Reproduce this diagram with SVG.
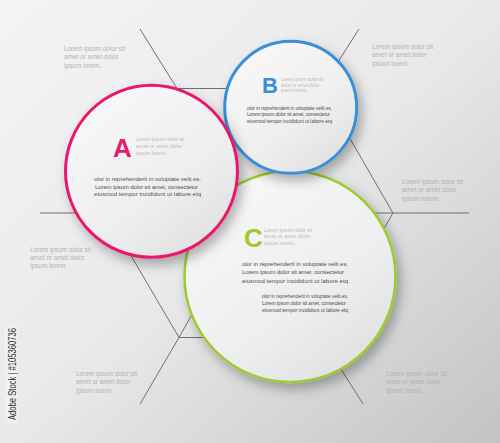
<svg xmlns="http://www.w3.org/2000/svg" width="500" height="443" viewBox="0 0 500 443">
<defs>
<linearGradient id="bg" x1="0" y1="0" x2="1" y2="1">
<stop offset="0" stop-color="#f4f4f4"/>
<stop offset="0.5" stop-color="#e9e9ea"/>
<stop offset="1" stop-color="#c2c3c5"/>
</linearGradient>
<linearGradient id="disc" x1="0.2" y1="0.1" x2="0.85" y2="0.95">
<stop offset="0" stop-color="#f7f7f7"/>
<stop offset="0.6" stop-color="#eeeeee"/>
<stop offset="1" stop-color="#e0e0e1"/>
</linearGradient>
<filter id="sh" x="-30%" y="-30%" width="160%" height="160%">
<feDropShadow dx="4" dy="6" stdDeviation="6" flood-color="#000" flood-opacity="0.3"/>
</filter>
<style>
.ln{stroke:#707070;stroke-width:1;fill:none}
.out{font-family:"Liberation Sans",Arial,sans-serif;font-size:6.5px;fill:#b3b3b3}
.sm{font-family:"Liberation Sans",Arial,sans-serif;fill:#bdbdbd}
.body{font-family:"Liberation Sans",Arial,sans-serif;fill:#4f4f4f}
.let{font-family:"Liberation Sans",Arial,sans-serif;font-weight:bold}
.disc{fill:url(#disc);filter:url(#sh)}
</style>
</defs>
<rect width="500" height="443" fill="url(#bg)"/>
<g id="connectors">
<path class="ln" d="M177,88.5 L321,88.5 L393,213 L321,337.5 L179,337.5 L106,213 Z"/>
<path class="ln" d="M249,213 L393,213 M249,213 L179,337.5 M249,213 L177,88.5"/>
<path class="ln" d="M177,88.5 L140,29 M321,88.5 L359,29 M393,213 L469,213 M321,337.5 L363,404 M179,337.5 L140,404 M106,213 L40,213"/>
</g>
<g id="labels">
<text class="out" x="64" y="50.5"><tspan textLength="61">Lorem ipsum dolor sit</tspan><tspan x="64" dy="8.5">amet or amet dolor</tspan><tspan x="64" dy="8.5">ipsum lorem.</tspan></text>
<text class="out" x="372" y="49"><tspan textLength="61">Lorem ipsum dolor sit</tspan><tspan x="372" dy="8.3">amet or amet dolor</tspan><tspan x="372" dy="8.3">ipsum lorem.</tspan></text>
<text class="out" x="402" y="184"><tspan textLength="61">Lorem ipsum dolor sit</tspan><tspan x="402" dy="8.3">amet or amet dolor</tspan><tspan x="402" dy="8.3">ipsum lorem.</tspan></text>
<text class="out" x="30" y="251.5"><tspan textLength="61">Lorem ipsum dolor sit</tspan><tspan x="30" dy="8.3">amet or amet dolor</tspan><tspan x="30" dy="8.3">ipsum lorem.</tspan></text>
<text class="out" x="76" y="376"><tspan textLength="61">Lorem ipsum dolor sit</tspan><tspan x="76" dy="8.4">amet or amet dolor</tspan><tspan x="76" dy="8.4">ipsum lorem.</tspan></text>
<text class="out" x="386" y="376" fill="#a9a9a9"><tspan textLength="61">Lorem ipsum dolor sit</tspan><tspan x="386" dy="8.4">amet or amet dolor</tspan><tspan x="386" dy="8.4">ipsum lorem.</tspan></text>
</g>
<g id="nodeC">
<circle class="disc" cx="290" cy="276.5" r="105.5" stroke="#9dcb2d" stroke-width="2.5"/>
<text class="let" x="244" y="247" font-size="26" fill="#9dcb2d">C</text>
<text class="sm" x="264" y="231.5" font-size="5.5"><tspan textLength="48">Lorem ipsum dolor sit</tspan><tspan x="264" dy="6.7">amet or amet dolor</tspan><tspan x="264" dy="6.7">ipsum lorem.</tspan></text>
<text class="body" x="242" y="266" font-size="6"><tspan textLength="106">olor in reprehenderit in voluptate velit es,</tspan><tspan x="242" dy="8.3" textLength="102">Lorem ipsum dolor sit amet, consectetur</tspan><tspan x="242" dy="8.3" textLength="106">eiusmod tempor incididunt ut labore etq</tspan></text>
<text class="body" x="262" y="297.7" font-size="5"><tspan textLength="86">olor in reprehenderit in voluptate velit es,</tspan><tspan x="262" dy="7" textLength="84">Lorem ipsum dolor sit amet, consectetur</tspan><tspan x="262" dy="7" textLength="86">eiusmod tempor incididunt ut labore etq</tspan></text>
</g>
<g id="nodeB">
<circle class="disc" cx="290.7" cy="107.3" r="66" stroke="#3b8fd6" stroke-width="3"/>
<text class="let" x="262" y="93" font-size="22" fill="#3b8fd6">B</text>
<text class="sm" x="281" y="81" font-size="4.6"><tspan textLength="42">Lorem ipsum dolor sit</tspan><tspan x="281" dy="5.6">amet or amet dolor</tspan><tspan x="281" dy="5.6">ipsum lorem.</tspan></text>
<text class="body" x="247" y="109.5" font-size="5"><tspan textLength="85">olor in reprehenderit in voluptate velit es,</tspan><tspan x="247" dy="6.7" textLength="83">Lorem ipsum dolor sit amet, consectetur</tspan><tspan x="247" dy="6.7" textLength="85">eiusmod tempor incididunt ut labore etq</tspan></text>
</g>
<g id="nodeA">
<circle class="disc" cx="151.5" cy="171.3" r="86" stroke="#e8186c" stroke-width="3"/>
<text class="let" x="113" y="157" font-size="26" fill="#e8186c">A</text>
<text class="sm" x="136" y="141.3" font-size="5.5"><tspan textLength="48">Lorem ipsum dolor sit</tspan><tspan x="136" dy="6.7">amet or amet dolor</tspan><tspan x="136" dy="6.7">ipsum lorem.</tspan></text>
<text class="body" x="94" y="181" font-size="6"><tspan textLength="107">olor in reprehenderit in voluptate velit es,</tspan><tspan x="95" dy="7.7" textLength="103">Lorem ipsum dolor sit amet, consectetur</tspan><tspan x="94" dy="7.7" textLength="107">eiusmod tempor incididunt ut labore etq</tspan></text>
</g>
<rect x="5" y="325" width="13" height="98" fill="#f2f2f2" opacity="0.8"/>
<text x="0" y="0" transform="translate(15.8,420) rotate(-90)" font-family="'Liberation Sans',Arial,sans-serif" font-size="10.5" fill="#2a2a2a" textLength="92" lengthAdjust="spacingAndGlyphs">Adobe Stock | #105360736</text>
</svg>
